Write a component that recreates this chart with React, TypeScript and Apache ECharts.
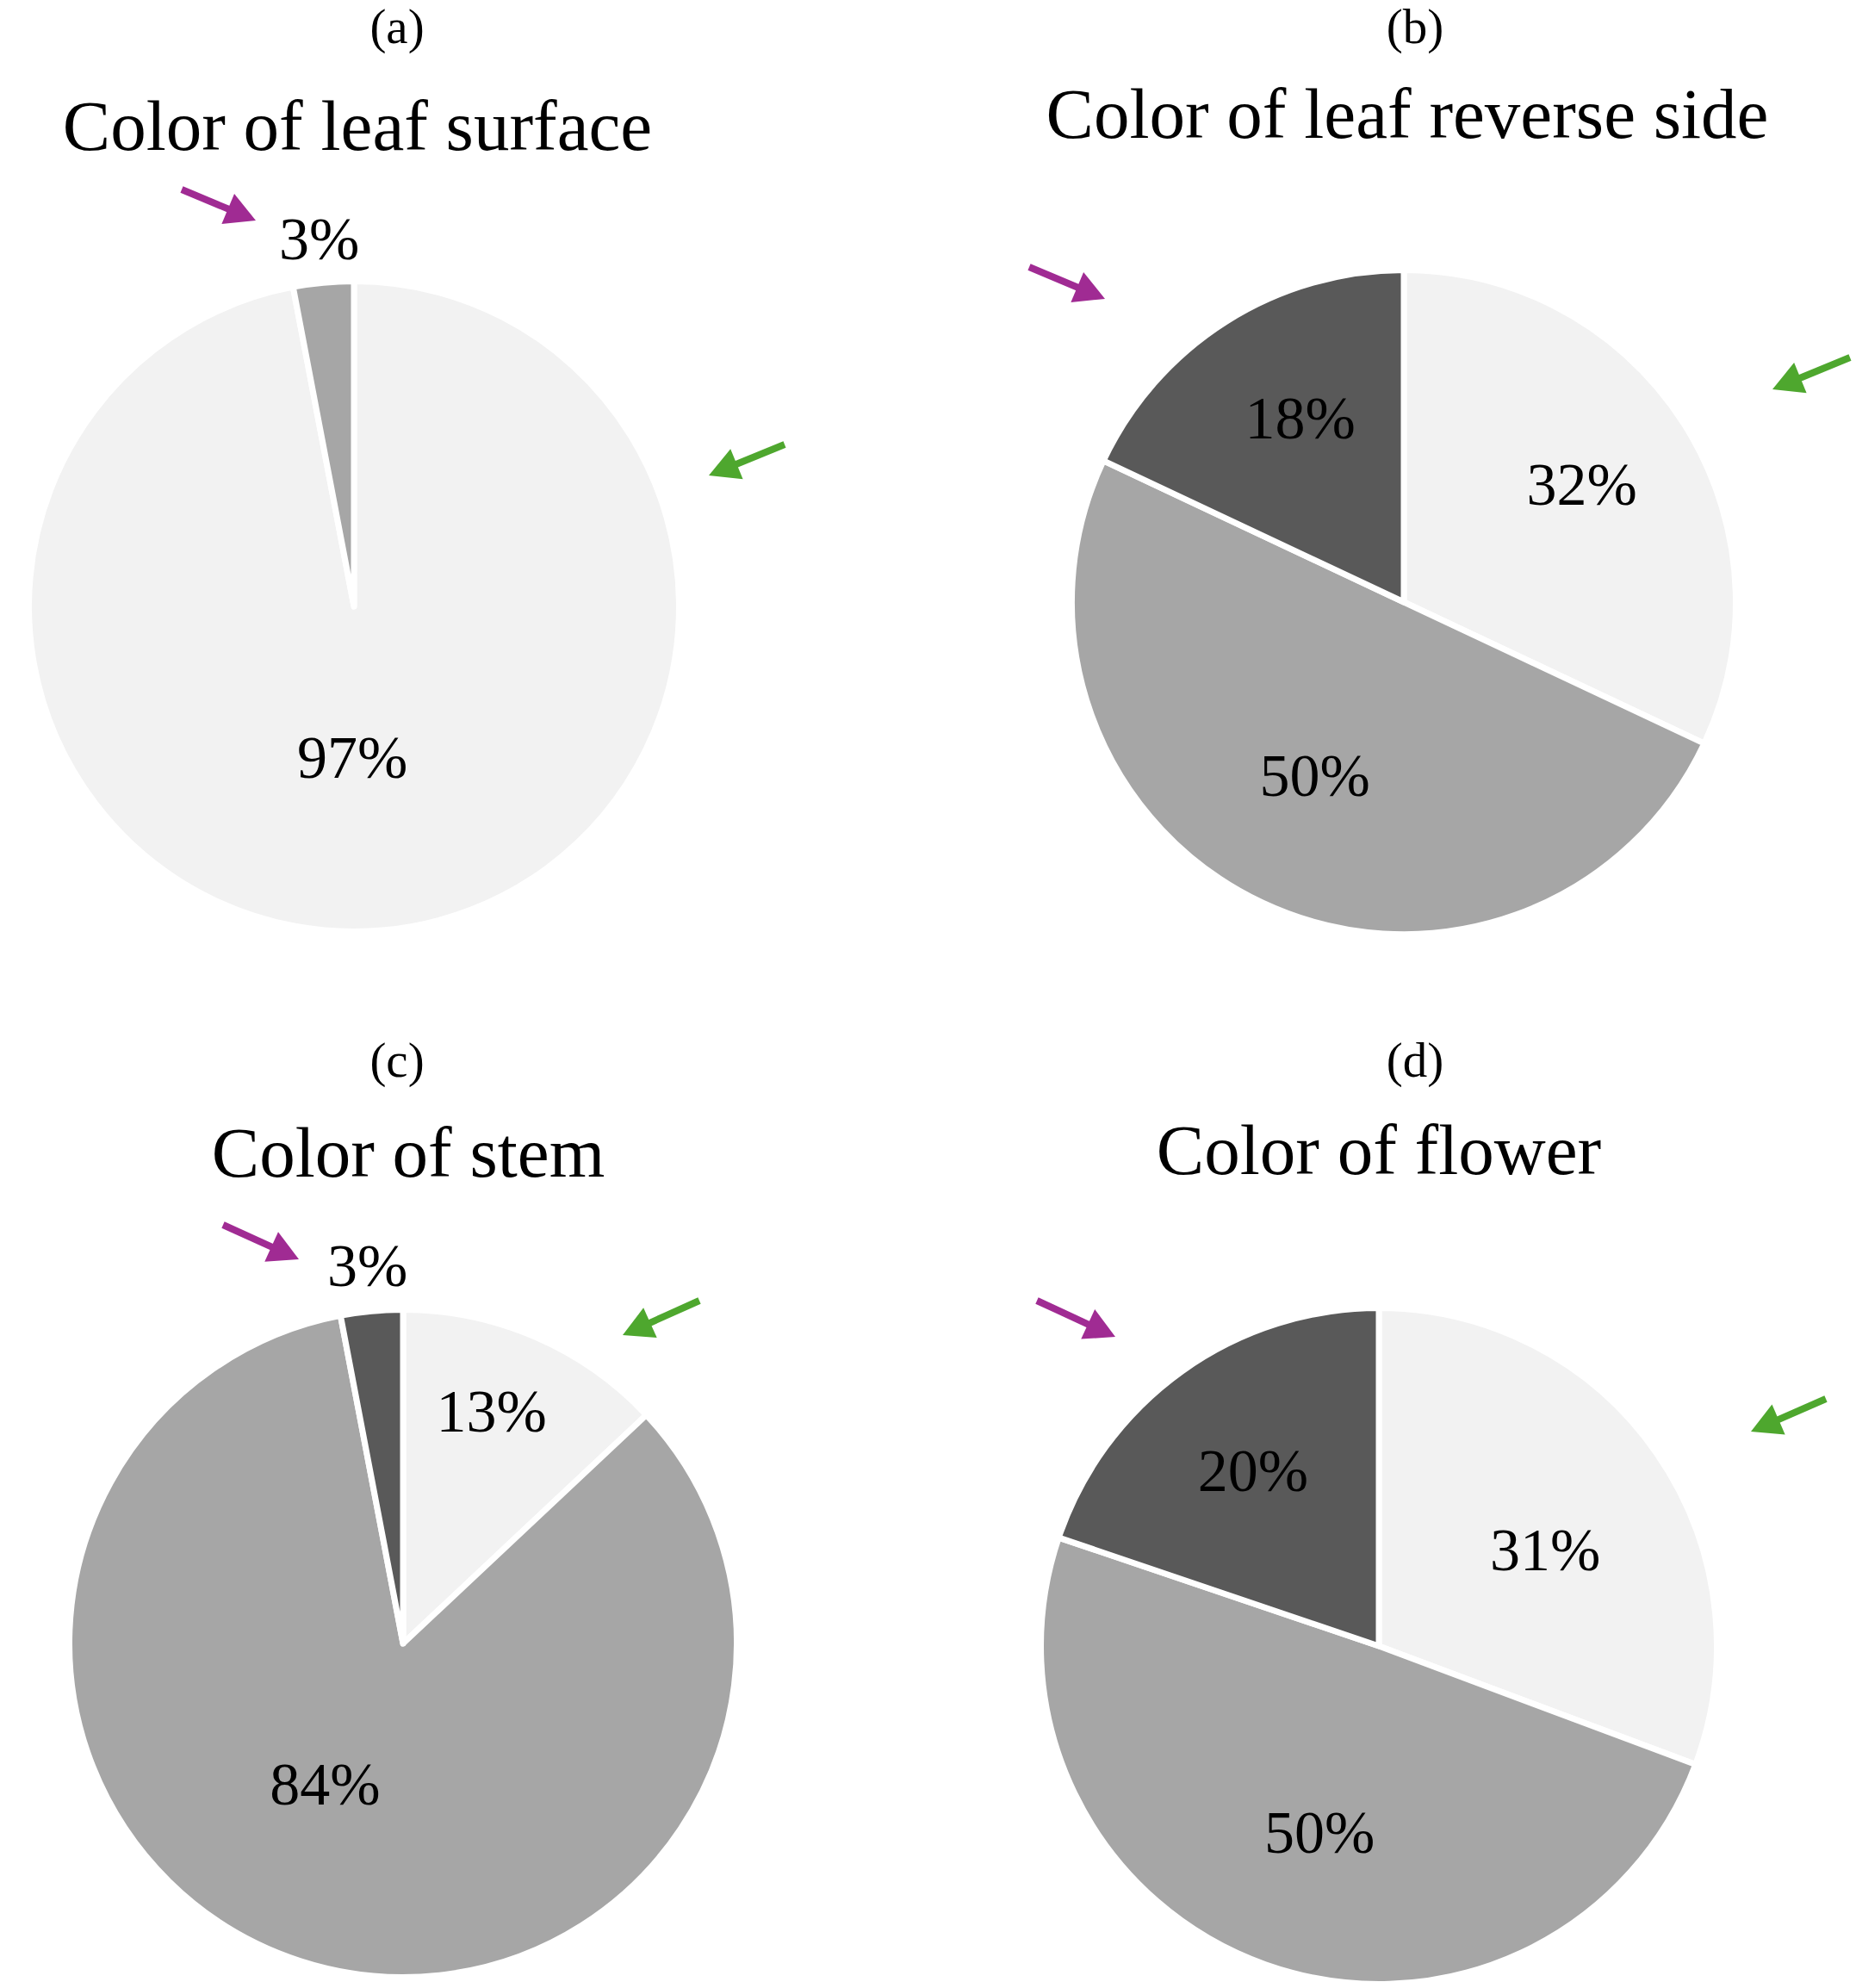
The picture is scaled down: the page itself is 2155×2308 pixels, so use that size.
import React, { useEffect, useRef } from "react";
import * as echarts from "echarts";

const W = 2155;
const H = 2308;

const panelLetters = ["(a)", "(b)", "(c)", "(d)"];
const panelTitles = [
  "Color of leaf surface",
  "Color of leaf reverse side",
  "Color of stem",
  "Color of flower",
];

// Share (%) of each colour class, clockwise from 12 o'clock
const leafSurface = [97, 3];
const leafReverse = [32, 50, 18];
const stem = [13, 84, 3];
const flower = [31, 50, 20];

const LIGHT = "#f2f2f2";
const MID = "#a6a6a6";
const DARK = "#595959";
const PURPLE = "#a02b93";
const GREEN = "#4ea72e";
const FONT = "'Liberation Serif', 'Times New Roman', serif";

type Pt = [number, number];

interface Panel {
  values: number[];
  colors: string[];
  center: Pt;
  radius: number;
  letterPos: Pt;
  titlePos: Pt;
  // label placement per slice: [fraction of radius, angular nudge in degrees]
  labelPlace: Pt[];
  purple: [Pt, Pt];
  green: [Pt, Pt];
}

const panels: Panel[] = [
  {
    values: leafSurface,
    colors: [LIGHT, MID],
    center: [411, 704],
    radius: 374,
    letterPos: [461, 30],
    titlePos: [415, 146],
    labelPlace: [[0.47, 6], [1.146, 0]],
    purple: [[211, 220], [297, 256]],
    green: [[911, 516], [823, 552]],
  },
  {
    values: leafReverse,
    colors: [LIGHT, MID, DARK],
    center: [1630, 699],
    radius: 382,
    letterPos: [1643, 30],
    titlePos: [1634, 132],
    labelPlace: [[0.648, -1], [0.592, 2], [0.642, 3]],
    purple: [[1195, 310], [1283, 347]],
    green: [[2148, 415], [2058, 452]],
  },
  {
    values: stem,
    colors: [LIGHT, MID, DARK],
    center: [468, 1908],
    radius: 384,
    letterPos: [461, 1230],
    titlePos: [474, 1338],
    labelPlace: [[0.75, -2.5], [0.487, 11], [1.147, 0]],
    purple: [[259, 1422], [347, 1462]],
    green: [[812, 1510], [723, 1550]],
  },
  {
    values: flower,
    colors: [LIGHT, MID, DARK],
    center: [1601, 1911],
    radius: 389,
    letterPos: [1643, 1230],
    titlePos: [1601, 1335],
    labelPlace: [[0.574, 4.7], [0.585, -2], [0.645, 0]],
    purple: [[1204, 1510], [1295, 1552]],
    green: [[2120, 1624], [2033, 1662]],
  },
];

const BORDER = 7;

function arrow(from: Pt, to: Pt, color: string) {
  const dx = to[0] - from[0];
  const dy = to[1] - from[1];
  const len = Math.hypot(dx, dy);
  const ux = dx / len;
  const uy = dy / len;
  const headLen = 35;
  const halfW = 19;
  const bx = to[0] - ux * headLen;
  const by = to[1] - uy * headLen;
  const px = -uy;
  const py = ux;
  return [
    {
      type: "line",
      silent: true,
      shape: { x1: from[0], y1: from[1], x2: bx + ux * 4, y2: by + uy * 4 },
      style: { stroke: color, lineWidth: 8 },
    },
    {
      type: "polygon",
      silent: true,
      shape: {
        points: [
          [to[0], to[1]],
          [bx + px * halfW, by + py * halfW],
          [bx - px * halfW, by - py * halfW],
        ],
      },
      style: { fill: color },
    },
  ];
}

function textEl(str: string, pos: Pt, size: number) {
  return {
    type: "text",
    silent: true,
    x: pos[0],
    y: pos[1],
    style: {
      text: str,
      fontFamily: FONT,
      fontSize: size,
      fill: "#000000",
      align: "center",
      verticalAlign: "middle",
    },
  };
}

export default function App() {
  const ref = useRef<HTMLDivElement>(null);

  useEffect(() => {
    document.body.style.margin = "0";
    if (!ref.current) return;
    const chart = echarts.init(ref.current, undefined, { renderer: "svg" });

    const series = panels.map((p) => {
      const total = p.values.reduce((a, b) => a + b, 0);
      const cums: number[] = [];
      let acc = 0;
      p.values.forEach((v) => {
        cums.push(acc);
        acc += v;
      });
      return {
        type: "pie",
        silent: true,
        center: p.center,
        radius: p.radius + BORDER / 2,
        startAngle: 90,
        clockwise: true,
        avoidLabelOverlap: false,
        label: {
          show: true,
          position: "inside",
          formatter: "{c}%",
          fontFamily: FONT,
          fontSize: 70,
          color: "#000000",
        },
        labelLine: { show: false },
        labelLayout: (params: any) => {
          const i = params.dataIndex;
          const [frac, nudge] = p.labelPlace[i];
          const mid =
            ((cums[i] + p.values[i] / 2) / total) * 360 + nudge;
          const a = (mid * Math.PI) / 180;
          return {
            x: p.center[0] + frac * p.radius * Math.sin(a),
            y: p.center[1] - frac * p.radius * Math.cos(a),
            align: "center",
            verticalAlign: "middle",
          };
        },
        itemStyle: { borderColor: "#ffffff", borderWidth: BORDER },
        emphasis: { disabled: true },
        data: p.values.map((v, i) => ({
          value: v,
          itemStyle: { color: p.colors[i] },
        })),
      };
    });

    const graphics: any[] = [];
    panels.forEach((p, k) => {
      graphics.push(textEl(panelLetters[k], p.letterPos, 57));
      graphics.push(textEl(panelTitles[k], p.titlePos, 83));
      graphics.push(...arrow(p.purple[0], p.purple[1], PURPLE));
      graphics.push(...arrow(p.green[0], p.green[1], GREEN));
    });

    chart.setOption({
      animation: false,
      backgroundColor: "#ffffff",
      series,
      graphic: graphics,
    });

    return () => chart.dispose();
  }, []);

  return <div ref={ref} style={{ width: W, height: H }} />;
}
